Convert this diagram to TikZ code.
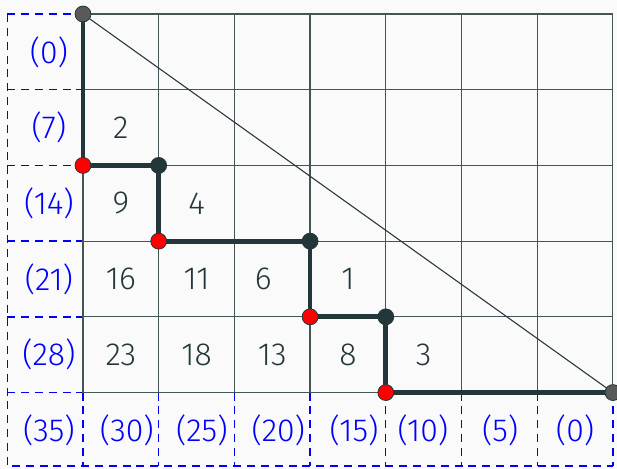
\documentclass[tikz,border=0pt]{standalone}
\usepackage{fontspec}
\setmainfont{Fira Sans Light}
\usetikzlibrary{positioning}
\definecolor{mDark}{HTML}{23373B}
\definecolor{mBg}{HTML}{FAFAFA}

\begin{document}
\begin{tikzpicture}[
  dot/.style={circle,draw=mDark,line width=0.3pt,inner sep=0pt,minimum size=0.21cm},
  corner/.style={dot,fill=black!65},
  turn/.style={dot,fill=mDark},
  hit/.style={dot,fill=red},
  val/.style={font=\large,text=mDark},
  cost/.style={font=\large,text=blue},
  box/.style={blue,dash pattern=on 3pt off 2.2pt,line width=0.5pt},
  route/.style={mDark,line width=1.8pt},
]
  \useasboundingbox[fill=mBg] (-1.096,-1.004) rectangle (7.054,5.185);

  % Dashed frame for the costs
  \draw[box] (-1,5) -- (-1,-0.97) -- (7,-0.97);
  \foreach \y in {0,...,5} \draw[box] (-1,\y) -- (0,\y);
  \foreach \x in {0,...,7} \draw[box] (\x,0) -- (\x,-0.97);

  % Grid
  \draw[mDark!85,line width=0.45pt] (0,0) grid (7,5);

  % Path corners
  \coordinate (p0) at (0,5);
  \coordinate (p1) at (0,3);
  \coordinate (p2) at (1,3);
  \coordinate (p3) at (1,2);
  \coordinate (p4) at (3,2);
  \coordinate (p5) at (3,1);
  \coordinate (p6) at (4,1);
  \coordinate (p7) at (4,0);
  \coordinate (p8) at (7,0);

  % Diagonal and route
  \draw[mDark,line width=0.4pt] (p0) -- (p8);
  \draw[route] (p0) -- (p1) -- (p2) -- (p3) -- (p4) -- (p5) -- (p6) -- (p7) -- (p8);

  % Dots
  \node[corner] (d0) at (p0) {};
  \node[corner] (d8) at (p8) {};
  \foreach \p in {p1,p3,p5,p7} \node[hit] (h\p) at (\p) {};
  \foreach \p in {p2,p4,p6} \node[turn] (t\p) at (\p) {};

  % Cell values
  \node[val] (v2)  at (0.5,3.5) {2};
  \node[val] (v9)  at (0.5,2.5) {9};
  \node[val] (v4)  at (1.5,2.5) {4};
  \node[val] (v16) at (0.5,1.5) {16};
  \node[val] (v11) at (1.5,1.5) {11};
  \node[val] (v6)  at (2.38,1.5) {6};
  \node[val] (v1)  at (3.5,1.5) {1};
  \node[val] (v23) at (0.5,0.5) {23};
  \node[val] (v18) at (1.5,0.5) {18};
  \node[val] (v13) at (2.5,0.5) {13};
  \node[val] (v8)  at (3.5,0.5) {8};
  \node[val] (v3)  at (4.5,0.5) {3};

  % Row costs
  \foreach \c [count=\i from 0] in {0,7,14,21,28,35}
    \node[cost] (r\c) at (-0.45,4.5-\i) {(\c)};

  % Column costs
  \foreach \c/\x in {30/0.58,25/1.57,20/2.58,15/3.58,10/4.49,5/5.51,0/6.5}
    \node[cost] (c\c) at (\x,-0.5) {(\c)};
\end{tikzpicture}
\end{document}
